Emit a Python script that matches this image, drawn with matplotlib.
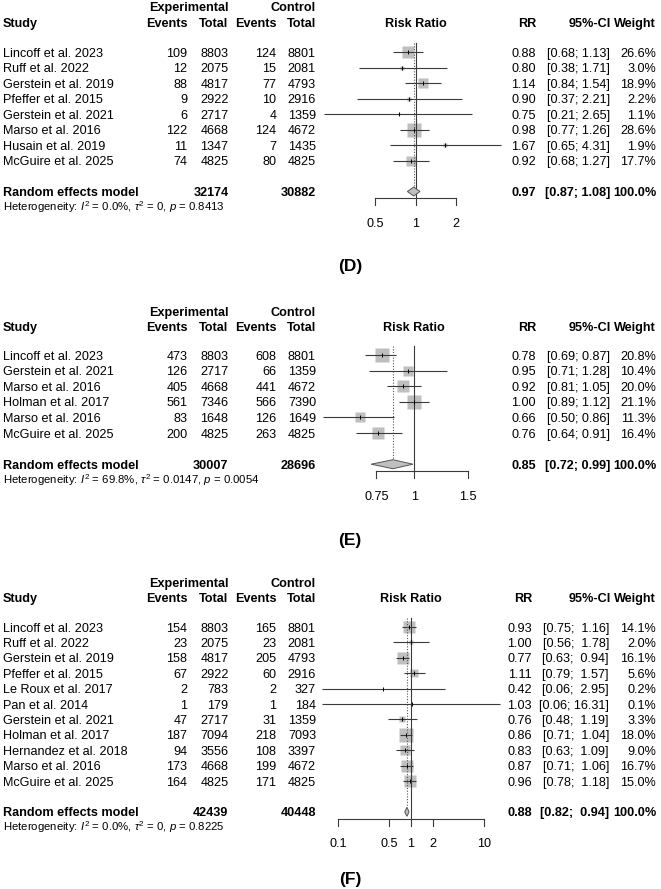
import matplotlib
matplotlib.use("Agg")
import matplotlib.pyplot as plt
import numpy as np

plt.rcParams['font.family'] = ['Liberation Sans', 'DejaVu Sans']
plt.rcParams['mathtext.fontset'] = 'custom'
plt.rcParams['mathtext.rm'] = 'Liberation Sans'
plt.rcParams['mathtext.it'] = 'Liberation Sans:italic'
plt.rcParams['mathtext.bf'] = 'Liberation Sans:bold'

# ---------------- Data: panel D ----------------
studies_D = ["Lincoff et al. 2023", "Ruff et al. 2022", "Gerstein et al. 2019", "Pfeffer et al. 2015",
             "Gerstein et al. 2021", "Marso et al. 2016", "Husain et al. 2019", "McGuire et al. 2025"]
exp_events_D = [109, 12, 88, 9, 6, 122, 11, 74]
exp_total_D = [8803, 2075, 4817, 2922, 2717, 4668, 1347, 4825]
ctl_events_D = [124, 15, 77, 10, 4, 124, 7, 80]
ctl_total_D = [8801, 2081, 4793, 2916, 1359, 4672, 1435, 4825]
rr_D = [0.88, 0.80, 1.14, 0.90, 0.75, 0.98, 1.67, 0.92]
lo_D = [0.68, 0.38, 0.84, 0.37, 0.21, 0.77, 0.65, 0.68]
hi_D = [1.13, 1.71, 1.54, 2.21, 2.65, 1.26, 4.31, 1.27]
weight_D = [26.6, 3.0, 18.9, 2.2, 1.1, 28.6, 1.9, 17.7]
pooled_D = [0.97, 0.87, 1.08]
totals_D = [32174, 30882]
het_D = "Heterogeneity: $I^2$ = 0.0%, $\\tau^2$ = 0, $p$ = 0.8413"
ticks_D = [0.5, 1, 2]
tick_labels_D = ["0.5", "1", "2"]

# ---------------- Data: panel E ----------------
studies_E = ["Lincoff et al. 2023", "Gerstein et al. 2021", "Marso et al. 2016", "Holman et al. 2017",
             "Marso et al. 2016", "McGuire et al. 2025"]
exp_events_E = [473, 126, 405, 561, 83, 200]
exp_total_E = [8803, 2717, 4668, 7346, 1648, 4825]
ctl_events_E = [608, 66, 441, 566, 126, 263]
ctl_total_E = [8801, 1359, 4672, 7390, 1649, 4825]
rr_E = [0.78, 0.95, 0.92, 1.00, 0.66, 0.76]
lo_E = [0.69, 0.71, 0.81, 0.89, 0.50, 0.64]
hi_E = [0.87, 1.28, 1.05, 1.12, 0.86, 0.91]
weight_E = [20.8, 10.4, 20.0, 21.1, 11.3, 16.4]
pooled_E = [0.85, 0.72, 0.99]
totals_E = [30007, 28696]
het_E = "Heterogeneity: $I^2$ = 69.8%, $\\tau^2$ = 0.0147, $p$ = 0.0054"
ticks_E = [0.75, 1, 1.5]
tick_labels_E = ["0.75", "1", "1.5"]

# ---------------- Data: panel F ----------------
studies_F = ["Lincoff et al. 2023", "Ruff et al. 2022", "Gerstein et al. 2019", "Pfeffer et al. 2015",
             "Le Roux et al. 2017", "Pan et al. 2014", "Gerstein et al. 2021", "Holman et al. 2017",
             "Hernandez et al. 2018", "Marso et al. 2016", "McGuire et al. 2025"]
exp_events_F = [154, 23, 158, 67, 2, 1, 47, 187, 94, 173, 164]
exp_total_F = [8803, 2075, 4817, 2922, 783, 179, 2717, 7094, 3556, 4668, 4825]
ctl_events_F = [165, 23, 205, 60, 2, 1, 31, 218, 108, 199, 171]
ctl_total_F = [8801, 2081, 4793, 2916, 327, 184, 1359, 7093, 3397, 4672, 4825]
rr_F = [0.93, 1.00, 0.77, 1.11, 0.42, 1.03, 0.76, 0.86, 0.83, 0.87, 0.96]
lo_F = [0.75, 0.56, 0.63, 0.79, 0.06, 0.06, 0.48, 0.71, 0.63, 0.71, 0.78]
hi_F = [1.16, 1.78, 0.94, 1.57, 2.95, 16.31, 1.19, 1.04, 1.09, 1.06, 1.18]
weight_F = [14.1, 2.0, 16.1, 5.6, 0.2, 0.1, 3.3, 18.0, 9.0, 16.7, 15.0]
pooled_F = [0.88, 0.82, 0.94]
totals_F = [42439, 40448]
het_F = "Heterogeneity: $I^2$ = 0.0%, $\\tau^2$ = 0, $p$ = 0.8225"
ticks_F = [0.1, 0.5, 1, 2, 10]
tick_labels_F = ["0.1", "0.5", "1", "2", "10"]

# ---------------- Figure ----------------
W, H = 661, 889
fig = plt.figure(figsize=(W / 100, H / 100), dpi=100)
FS = 9.1
BOX_COLOR = '#BFBFBF'
LINE_COLOR = '#3a3a3a'


def ftext(x, y, s, fontsize=FS, **kw):
    # y = pixel centre of the cap height; place baseline below it
    base = y + 0.358 * fontsize * 100 / 72
    fig.text(x / W, 1 - base / H, s, fontsize=fontsize, va='baseline', **kw)


def fmt_ci(lo, hi, width):
    return "[{:.2f}; {}]".format(lo, "{:.2f}".format(hi).rjust(width))


def panel(studies, ee, et, ce, ct, rr, lo, hi, wt, pooled, totals, het, ticks, tlabels, label,
          y_hdr, y_first, step, x_one, k, rr_right, ci_right, axis_gap=6.8, lab_gap=73):
    y_hdr2 = y_hdr + 15.5
    ftext(228.5, y_hdr, "Experimental", ha='right', fontweight='bold')
    ftext(316, y_hdr, "Control", ha='right', fontweight='bold')
    ftext(3, y_hdr2, "Study", ha='left', fontweight='bold')
    ftext(187.5, y_hdr2, "Events", ha='right', fontweight='bold')
    ftext(228.5, y_hdr2, "Total", ha='right', fontweight='bold')
    ftext(276.5, y_hdr2, "Events", ha='right', fontweight='bold')
    ftext(316, y_hdr2, "Total", ha='right', fontweight='bold')
    ftext(x_one, y_hdr2, "Risk Ratio", ha='center', fontweight='bold')
    ftext(rr_right, y_hdr2, "RR", ha='right', fontweight='bold')
    ftext(611, y_hdr2, "95%-CI", ha='right', fontweight='bold')
    ftext(656, y_hdr2, "Weight", ha='right', fontweight='bold')

    n = len(studies)
    ys = [y_first + i * step for i in range(n)]
    y_re = y_first + (n + 1) * step
    width = max(len("{:.2f}".format(v)) for v in list(hi) + [pooled[2]])

    for i in range(n):
        y = ys[i]
        ftext(3, y, studies[i], ha='left')
        ftext(187.5, y, str(ee[i]), ha='right')
        ftext(228.5, y, str(et[i]), ha='right')
        ftext(276.5, y, str(ce[i]), ha='right')
        ftext(316, y, str(ct[i]), ha='right')
        ftext(rr_right, y, "{:.2f}".format(rr[i]), ha='right')
        ftext(ci_right, y, fmt_ci(lo[i], hi[i], width), ha='right')
        ftext(656, y, "{:.1f}%".format(wt[i]), ha='right')

    ftext(3, y_re, "Random effects model", ha='left', fontweight='bold')
    ftext(228.5, y_re, str(totals[0]), ha='right', fontweight='bold')
    ftext(316, y_re, str(totals[1]), ha='right', fontweight='bold')
    ftext(rr_right, y_re, "{:.2f}".format(pooled[0]), ha='right', fontweight='bold')
    ftext(ci_right, y_re, fmt_ci(pooled[1], pooled[2], width), ha='right', fontweight='bold')
    ftext(656, y_re, "100.0%", ha='right', fontweight='bold')
    ftext(3, y_re + 15.5, het, ha='left', fontsize=8.2)

    # forest axes: pixel y, log x
    px0, px1 = 290, 520
    ax = fig.add_axes([px0 / W, 0, (px1 - px0) / W, 1])
    ax.set_xscale('log')
    ax.set_xlim(10 ** ((px0 - x_one) / k), 10 ** ((px1 - x_one) / k))
    ax.set_ylim(H, 0)
    ax.axis('off')

    y_top = y_first - 9
    y_axis = y_re + axis_gap
    wmax = max(wt)
    for i in range(n):
        side = 13.3 * np.sqrt(wt[i] / wmax)
        ax.plot([rr[i]], [ys[i]], marker='s', ms=side * 0.72, color=BOX_COLOR, mec='none',
                linestyle='none', zorder=2, clip_on=False)
        ax.plot([lo[i], hi[i]], [ys[i], ys[i]], color=LINE_COLOR, lw=0.8, zorder=3, clip_on=False,
                solid_capstyle='butt')
        ax.plot([rr[i]], [ys[i]], marker='|', ms=3.2, mew=0.7, color='black', linestyle='none',
                zorder=4, clip_on=False)

    # reference line at 1 and pooled dotted line
    ax.plot([1, 1], [y_top, y_axis], color=LINE_COLOR, lw=0.8, zorder=3)
    ax.plot([pooled[0], pooled[0]], [y_top, y_re - 4.5], color='#555555', lw=0.8,
            linestyle=(0, (1, 1.5)), zorder=3)

    # diamond
    dh = 4.5
    ax.fill([pooled[1], pooled[0], pooled[2], pooled[0]], [y_re, y_re - dh, y_re, y_re + dh],
            facecolor=BOX_COLOR, edgecolor='#555555', lw=0.7, zorder=4)

    # x axis
    ax.plot([ticks[0], ticks[-1]], [y_axis, y_axis], color=LINE_COLOR, lw=0.8)
    for t, tl in zip(ticks, tlabels):
        ax.plot([t, t], [y_axis, y_axis + 7], color=LINE_COLOR, lw=0.8)
        ax.text(t, y_axis + 24 + 4.5, tl, ha='center', va='baseline', fontsize=FS)

    ftext(350, y_re + lab_gap, label, ha='center', fontsize=12.5, fontweight='bold')


panel(studies_D, exp_events_D, exp_total_D, ctl_events_D, ctl_total_D, rr_D, lo_D, hi_D, weight_D,
      pooled_D, totals_D, het_D, ticks_D, tick_labels_D, "(D)",
      y_hdr=6.5, y_first=52, step=15.5, x_one=415.5, k=134.5, rr_right=536, ci_right=610)

panel(studies_E, exp_events_E, exp_total_E, ctl_events_E, ctl_total_E, rr_E, lo_E, hi_E, weight_E,
      pooled_E, totals_E, het_E, ticks_E, tick_labels_E, "(E)",
      y_hdr=311, y_first=355, step=15.6, x_one=414.3, k=303, rr_right=536, ci_right=610,
      lab_gap=75)

panel(studies_F, exp_events_F, exp_total_F, ctl_events_F, ctl_total_F, rr_F, lo_F, hi_F, weight_F,
      pooled_F, totals_F, het_F, ticks_F, tick_labels_F, "(F)",
      y_hdr=582, y_first=627, step=15.4, x_one=411, k=73, rr_right=532, ci_right=609,
      lab_gap=65.5)

fig.savefig("out.png", dpi=100)
